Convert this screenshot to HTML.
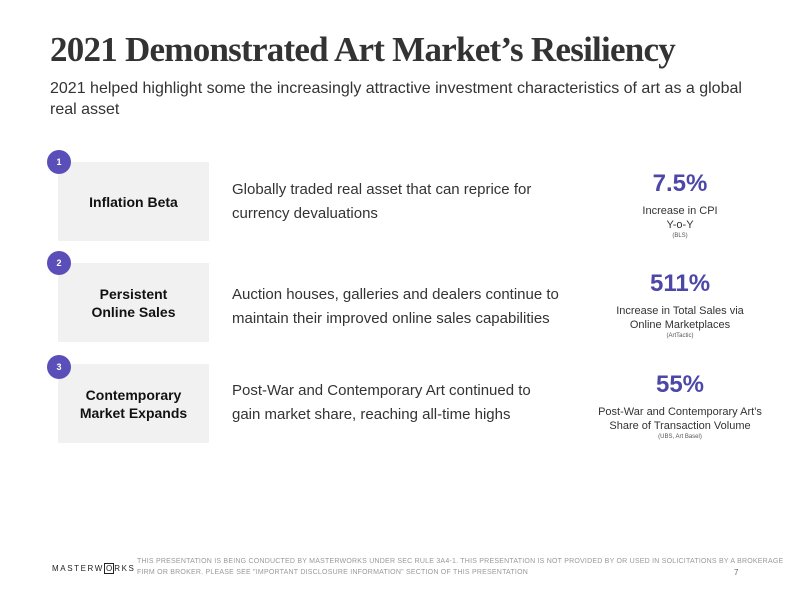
<!DOCTYPE html>
<html><head><style>
body{margin:0;width:800px;height:600px;background:#fff;position:relative;overflow:hidden;font-family:"Liberation Sans",sans-serif;}
.a{position:absolute;}
h1{position:absolute;left:50px;top:30px;margin:0;font-family:"Liberation Serif",serif;font-weight:bold;font-size:35px;color:#333;letter-spacing:-0.75px;white-space:nowrap;}
.sub{left:50px;top:78px;font-size:16px;line-height:21px;color:#333;width:720px;}
.box{position:absolute;left:58px;width:151px;height:79px;background:#f1f1f1;display:flex;align-items:center;justify-content:center;text-align:center;font-weight:bold;font-size:14px;line-height:18px;color:#111;}
.num{position:absolute;width:24px;height:24px;border-radius:50%;background:#5a4fb8;color:#fff;font-size:9px;font-weight:bold;text-align:center;line-height:24px;left:47px;}
.desc{position:absolute;left:232px;font-size:15px;line-height:24px;color:#333;}
.stat{position:absolute;left:570px;width:220px;text-align:center;color:#333;}
.big{font-size:24px;font-weight:bold;color:#4d47a8;line-height:28px;}
.lbl{font-size:11px;line-height:14px;margin-top:6px;}
.src{font-size:6px;line-height:8px;color:#555;}
</style></head><body>
<h1>2021 Demonstrated Art Market’s Resiliency</h1>
<div class="a sub">2021 helped highlight some the increasingly attractive investment characteristics of art as a global real asset</div>

<div class="box" style="top:162px">Inflation Beta</div>
<div class="num" style="top:150px">1</div>
<div class="desc" style="top:178px">Globally traded real asset that can reprice for<br>currency devaluations</div>
<div class="stat" style="top:170px"><div class="big">7.5%</div><div class="lbl">Increase in CPI<br>Y-o-Y</div><div class="src">(BLS)</div></div>

<div class="box" style="top:263px">Persistent<br>Online Sales</div>
<div class="num" style="top:251px">2</div>
<div class="desc" style="top:283px">Auction houses, galleries and dealers continue to<br>maintain their improved online sales capabilities</div>
<div class="stat" style="top:270px"><div class="big">511%</div><div class="lbl">Increase in Total Sales via<br>Online Marketplaces</div><div class="src">(ArtTactic)</div></div>

<div class="box" style="top:364px">Contemporary<br>Market Expands</div>
<div class="num" style="top:355px">3</div>
<div class="desc" style="top:379px">Post-War and Contemporary Art continued to<br>gain market share, reaching all-time highs</div>
<div class="stat" style="top:371px"><div class="big">55%</div><div class="lbl">Post-War and Contemporary Art’s<br>Share of Transaction Volume</div><div class="src">(UBS, Art Basel)</div></div>

<div class="a" style="left:52px;top:564px;font-size:8px;letter-spacing:1.6px;color:#222;white-space:nowrap;">MASTERW<span style="border:1px solid #222;padding:0 1px;letter-spacing:0">O</span>RKS</div>
<div class="a" style="left:137px;top:556px;font-size:7px;line-height:11px;color:#999;width:660px;letter-spacing:0.22px;white-space:nowrap;">THIS PRESENTATION IS BEING CONDUCTED BY MASTERWORKS UNDER SEC RULE 3A4-1. THIS PRESENTATION IS NOT PROVIDED BY OR USED IN SOLICITATIONS BY A BROKERAGE<br>FIRM OR BROKER. PLEASE SEE "IMPORTANT DISCLOSURE INFORMATION" SECTION OF THIS PRESENTATION</div>
<div class="a" style="left:734px;top:568px;font-size:8px;color:#666;">7</div>
</body></html>
